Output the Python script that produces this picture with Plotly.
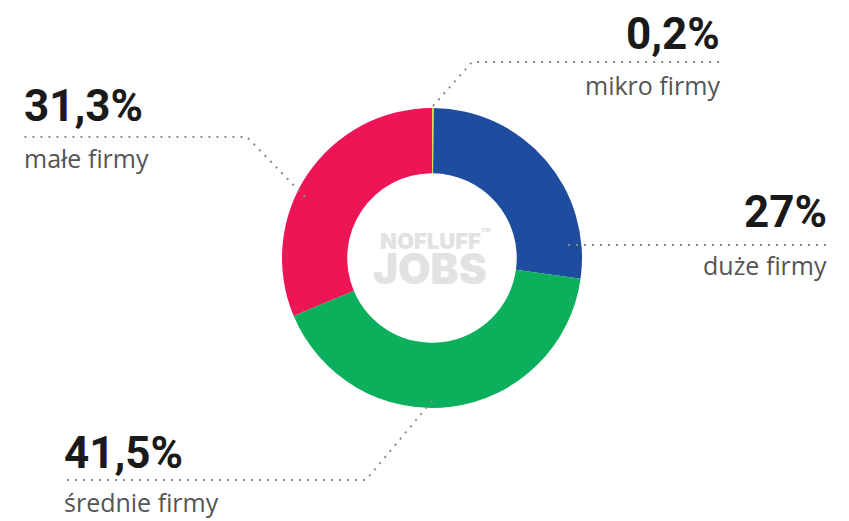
import plotly.graph_objects as go

W, H = 849, 521
OFF = 8  # page body margin in the browser

categories = ["mikro firmy", "duże firmy", "średnie firmy", "małe firmy"]
values = [0.2, 27.0, 41.5, 31.3]
value_labels = ["0,2%", "27%", "41,5%", "31,3%"]
colors = ["#D8D85A", "#1E4DA0", "#0BAF5C", "#EE1556"]

# donut geometry (screen pixels)
cx, cy, R = 432, 258, 150


def px(x):
    return (x - OFF) / W


def py(y):
    return 1 - (y - OFF) / H


fig = go.Figure()
fig.add_trace(go.Pie(
    labels=categories,
    values=values,
    marker=dict(colors=colors, line=dict(width=0)),
    hole=0.565,
    sort=False,
    direction="clockwise",
    rotation=0,
    textinfo="none",
    hoverinfo="label+percent",
    showlegend=False,
    domain=dict(x=[px(cx - R), px(cx + R)], y=[py(cy + R), py(cy - R)]),
))

dot = dict(color="#8a8a8a", width=2, dash="2px,6px")
shapes = []


def path(points):
    d = "M " + " L ".join(f"{px(x)},{py(y)}" for x, y in points)
    return dict(type="path", xref="paper", yref="paper", path=d, line=dot)


# leader lines (decoration)
shapes.append(path([(433, 106), (472, 62), (722, 62)]))      # mikro
shapes.append(path([(568, 245), (829, 245)]))                # duże
shapes.append(path([(305, 197), (247, 137), (22, 137)]))     # małe
shapes.append(path([(432, 401), (366, 480), (62, 480)]))     # średnie

num_font = dict(family="Roboto, sans-serif", size=44, color="#1a1a1a", weight=700)
lab_font = dict(family="Open Sans, sans-serif", size=25, color="#555555")

# label placement: value-text x, value y-centre, name y-centre, anchor
placements = {
    "mikro firmy": (722, 34, 85, "right"),
    "duże firmy": (829, 212, 265, "right"),
    "średnie firmy": (62, 453, 502, "left"),
    "małe firmy": (22, 106, 158, "left"),
}

annotations = []
for cat, vl in zip(categories, value_labels):
    x, yv, yn, xa = placements[cat]
    annotations.append(dict(text=vl, x=px(x), y=py(yv), xref="paper", yref="paper",
                            xanchor=xa, yanchor="middle", showarrow=False, font=num_font))
    annotations.append(dict(text=cat, x=px(x), y=py(yn), xref="paper", yref="paper",
                            xanchor=xa, yanchor="middle", showarrow=False, font=lab_font))

# center logo
annotations.append(dict(text="NOFLUFF<sup>™</sup>", x=px(cx + 3), y=py(239), xref="paper", yref="paper",
                        xanchor="center", yanchor="middle", showarrow=False,
                        font=dict(family="Inter, sans-serif", size=22, color="#e2e2e2", weight=900)))
annotations.append(dict(text="JOBS", x=px(cx - 2), y=py(268), xref="paper", yref="paper",
                        xanchor="center", yanchor="middle", showarrow=False,
                        font=dict(family="Inter, sans-serif", size=42, color="#e2e2e2", weight=900)))

fig.update_layout(
    width=W, height=H,
    margin=dict(l=0, r=0, t=0, b=0),
    paper_bgcolor="white",
    plot_bgcolor="white",
    shapes=shapes,
    annotations=annotations,
)

fig.write_html("out.html")
